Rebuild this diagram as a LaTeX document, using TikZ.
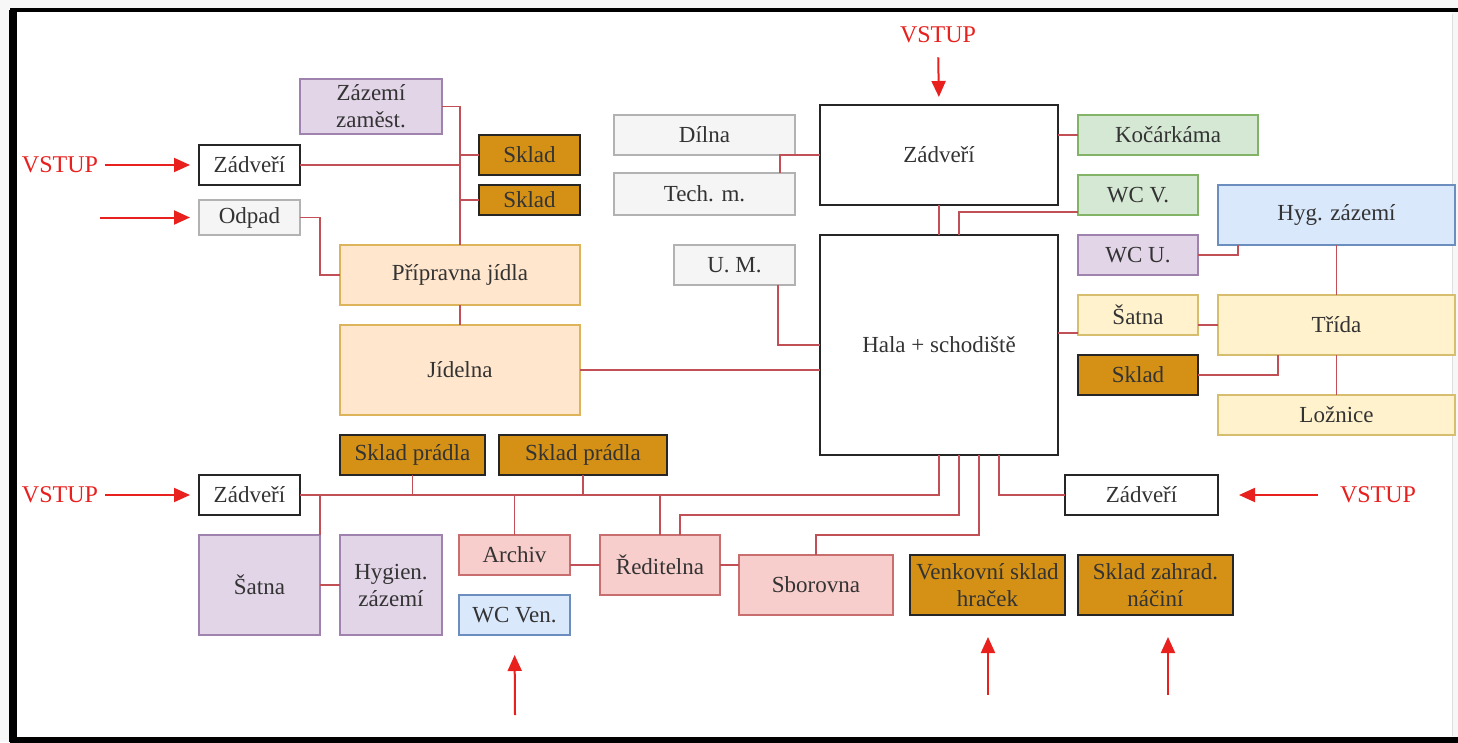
\documentclass[tikz,border=0pt]{standalone}
\usepackage{fontspec}
\setmainfont{Liberation Serif}
\usetikzlibrary{arrows.meta}

\definecolor{linkred}{RGB}{192,80,86}
\definecolor{arrred}{RGB}{232,32,30}
\definecolor{goldfill}{RGB}{212,145,22}
\definecolor{lavfill}{RGB}{225,213,231}
\definecolor{lavline}{RGB}{160,130,175}
\definecolor{peachfill}{RGB}{255,230,204}
\definecolor{peachline}{RGB}{222,180,90}
\definecolor{greenfill}{RGB}{213,232,212}
\definecolor{greenline}{RGB}{130,179,102}
\definecolor{bluefill}{RGB}{218,232,252}
\definecolor{blueline}{RGB}{108,142,191}
\definecolor{yelfill}{RGB}{255,242,204}
\definecolor{yelline}{RGB}{214,190,110}
\definecolor{pinkfill}{RGB}{248,206,204}
\definecolor{pinkline}{RGB}{200,110,110}

\tikzset{
  room/.style={draw, inner sep=0pt, outer sep=0pt, align=center, text=black!80,
    font=\fontsize{23}{27}\selectfont, line width=1.5pt},
  whitebox/.style={room, draw=black!85, fill=white, line width=2pt},
  goldbox/.style={room, draw=black!85, fill=goldfill, line width=2pt},
  greybox/.style={room, draw=gray!60, fill=gray!8},
  lavbox/.style={room, draw=lavline, fill=lavfill},
  peachbox/.style={room, draw=peachline, fill=peachfill},
  greenbox/.style={room, draw=greenline, fill=greenfill},
  bluebox/.style={room, draw=blueline, fill=bluefill},
  yelbox/.style={room, draw=yelline, fill=yelfill},
  pinkbox/.style={room, draw=pinkline, fill=pinkfill},
  link/.style={draw=linkred, line width=1.8pt},
  entry/.style={draw=arrred, line width=2pt, -{Triangle[length=16pt,width=14pt]}},
  vstup/.style={text=arrred, inner sep=0pt, font=\fontsize{24}{26}\selectfont},
}

\begin{document}
\begin{tikzpicture}[x=1pt,y=-1pt]
  \useasboundingbox (0,0) rectangle (1458,742);
  % frame
  \fill[gray!6] (0,0) rectangle (1458,742);
  \fill[white] (13,10) rectangle (1452,739);
  \draw[black, line width=4pt] (10,10) -- (1458,10);
  \draw[black, line width=8pt] (13,10) -- (13,742);
  \draw[black, line width=6pt] (10,740) -- (1458,740);
  \draw[gray!25, line width=1pt] (1452,14) -- (1452,736);

  % left upper part
  \node[lavbox, minimum width=142pt, minimum height=55pt] (zazemi) at (371,106.5) {Zázemí\\zaměst.};
  \node[whitebox, minimum width=101pt, minimum height=40pt] (zadA) at (249.5,165) {Zádveří};
  \node[goldbox, minimum width=101pt, minimum height=40pt] (skladA) at (529.5,155) {Sklad};
  \node[goldbox, minimum width=101pt, minimum height=30pt] (skladB) at (529.5,200) {Sklad};
  \node[greybox, minimum width=101pt, minimum height=35pt] (odpad) at (249.5,217.5) {Odpad};
  \node[peachbox, minimum width=240pt, minimum height=60pt] (pripravna) at (460,275) {Přípravna jídla};
  \node[peachbox, minimum width=240pt, minimum height=90pt] (jidelna) at (460,370) {Jídelna};

  % middle
  \node[greybox, minimum width=181pt, minimum height=40pt] (dilna) at (704.5,135) {Dílna};
  \node[greybox, minimum width=181pt, minimum height=42pt] (tech) at (704.5,194) {Tech. m.};
  \node[greybox, minimum width=121pt, minimum height=40pt] (um) at (734.5,265) {U. M.};
  \node[whitebox, minimum width=238pt, minimum height=100pt] (zadB) at (939,155) {Zádveří};
  \node[whitebox, minimum width=238pt, minimum height=220pt] (hala) at (939,345) {Hala + schodiště};

  % right part
  \node[greenbox, minimum width=180pt, minimum height=40pt] (kocarkarna) at (1168,135) {Kočárkáma};
  \node[greenbox, minimum width=120pt, minimum height=40pt] (wcv) at (1138,195) {WC V.};
  \node[lavbox, minimum width=120pt, minimum height=40pt] (wcu) at (1138,255) {WC U.};
  \node[yelbox, minimum width=120pt, minimum height=40pt] (satnaB) at (1138,315) {Šatna};
  \node[goldbox, minimum width=120pt, minimum height=40pt] (skladC) at (1138,375) {Sklad};
  \node[bluebox, minimum width=237pt, minimum height=60pt] (hyg) at (1336.5,215) {Hyg. zázemí};
  \node[yelbox, minimum width=237pt, minimum height=60pt] (trida) at (1336.5,325) {Třída};
  \node[yelbox, minimum width=237pt, minimum height=40pt] (loznice) at (1336.5,415) {Ložnice};

  % bottom part
  \node[goldbox, minimum width=145pt, minimum height=40pt] (pradloA) at (412.5,455) {Sklad prádla};
  \node[goldbox, minimum width=168pt, minimum height=40pt] (pradloB) at (583,455) {Sklad prádla};
  \node[whitebox, minimum width=101pt, minimum height=40pt] (zadC) at (249.5,495) {Zádveří};
  \node[whitebox, minimum width=153pt, minimum height=40pt] (zadD) at (1141.5,495) {Zádveří};
  \node[lavbox, minimum width=121pt, minimum height=100pt] (satnaA) at (259.5,585) {Šatna};
  \node[lavbox, minimum width=102pt, minimum height=100pt] (hygien) at (391,585) {Hygien.\\zázemí};
  \node[pinkbox, minimum width=111pt, minimum height=40pt] (archiv) at (514.5,555) {Archiv};
  \node[bluebox, minimum width=111pt, minimum height=40pt] (wcven) at (514.5,615) {WC Ven.};
  \node[pinkbox, minimum width=120pt, minimum height=60pt] (reditelna) at (660,565) {Ředitelna};
  \node[pinkbox, minimum width=154pt, minimum height=60pt] (sborovna) at (816,585) {Sborovna};
  \node[goldbox, minimum width=155pt, minimum height=60pt] (venkovni) at (987.5,585) {Venkovní sklad\\hraček};
  \node[goldbox, minimum width=155pt, minimum height=60pt] (zahrad) at (1155.5,585) {Sklad zahrad.\\náčiní};

  % entries
  \node[vstup] (vstupA) at (60,165) {VSTUP};
  \node[vstup] (vstupB) at (938,35) {VSTUP};
  \node[vstup] (vstupC) at (60,495) {VSTUP};
  \node[vstup] (vstupD) at (1378,495) {VSTUP};
  \coordinate (inOdpad) at (100,217.5);
  \coordinate (inWc) at (515,715);
  \coordinate (inVenk) at (988,695);
  \coordinate (inZahr) at (1168,695);

  \draw[entry, shorten <=7pt, shorten >=9pt] (vstupA.east) -- (zadA.west);
  \draw[entry, shorten >=9pt] (inOdpad) -- (odpad.west);
  \draw[entry, shorten <=14pt, shorten >=8pt] (vstupB.south) -- (zadB.north);
  \draw[entry, shorten <=7pt, shorten >=9pt] (vstupC.east) -- (zadC.west);
  \draw[entry, shorten <=22pt, shorten >=21pt] (vstupD.west) -- (zadD.east);
  \draw[entry, shorten >=20pt] (inWc) -- (wcven.south);
  \draw[entry, shorten >=22pt] (inVenk) -- (inVenk |- venkovni.south);
  \draw[entry, shorten >=22pt] (inZahr) -- (inZahr |- zahrad.south);

  % links upper left
  \draw[link] (zazemi.east) -| (pripravna.north);
  \draw[link] (zadA.east) -- (zadA.east -| pripravna.north);
  \draw[link] (skladA.west) -- (skladA.west -| pripravna.north);
  \draw[link] (skladB.west) -- (skladB.west -| pripravna.north);
  \draw[link] (odpad.east) -- ++(20,0) |- (pripravna.west);
  \draw[link] (pripravna.south) -- (jidelna.north);
  \draw[link] (jidelna.east) -- (jidelna.east -| hala.west);

  % links middle and right
  \draw[link] (zadB.west) -- ([xshift=-40pt]zadB.west) -- ([xshift=-40pt]zadB.west |- tech.north);
  \draw[link] ([xshift=-17pt]um.south east) |- (hala.west);
  \draw[link] (zadB.south) -- (hala.north);
  \draw[link] (kocarkarna.west) -- (kocarkarna.west -| zadB.east);
  \draw[link] ([yshift=3pt]wcv.south west) -| ([xshift=20pt]hala.north);
  \draw[link] (wcu.east) -| ([xshift=20pt]hyg.south west);
  \draw[link] (hyg.south) -- (trida.north);
  \coordinate (satnaLink) at ([yshift=2pt]satnaB.south west);
  \draw[link] (satnaLink) -- (satnaLink -| hala.east);
  \draw[link] (trida.west) -- (trida.west -| satnaB.east);
  \draw[link] (skladC.east) -| ([xshift=60pt]trida.south west);
  \draw[link] (trida.south) -- (loznice.north);

  % links bottom
  \draw[link] (zadC.east) -| (hala.south);
  \draw[link] (pradloA.south) -- (pradloA.south |- zadC.east);
  \draw[link] (pradloB.south) -- (pradloB.south |- zadC.east);
  \draw[link] (satnaA.north east) -- (satnaA.north east |- zadC.east);
  \draw[link] (satnaA.east) -- (hygien.west);
  \draw[link] (archiv.north) -- (archiv.north |- zadC.east);
  \draw[link] (reditelna.west) -- (reditelna.west -| archiv.east);
  \draw[link] (reditelna.north) -- (reditelna.north |- zadC.east);
  \draw[link] (reditelna.east) -- (reditelna.east -| sborovna.west);
  \draw[link] ([xshift=20pt]hala.south) |- ([xshift=20pt,yshift=20pt]reditelna.north) -- ([xshift=20pt]reditelna.north);
  \draw[link] ([xshift=40pt]hala.south) |- ([yshift=20pt]sborovna.north) -- (sborovna.north);
  \draw[link] ([xshift=60pt]hala.south) |- (zadD.west);
\end{tikzpicture}
\end{document}
